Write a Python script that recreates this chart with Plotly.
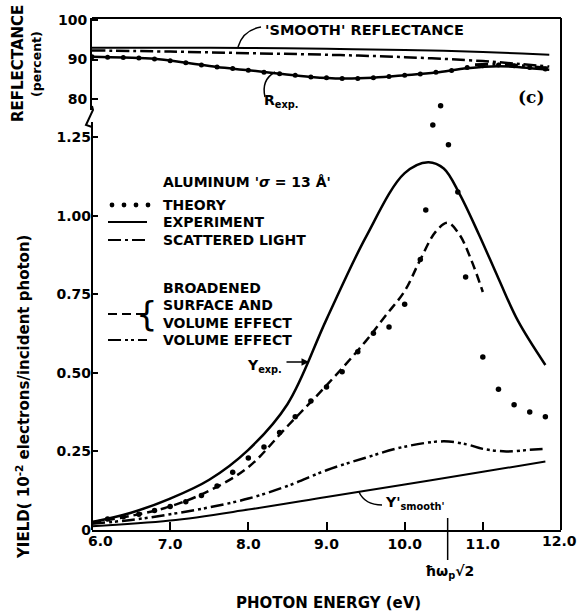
import plotly.graph_objects as go

# ---------------- DATA ----------------
# Top panel: reflectance (percent) vs photon energy (eV)
E_R_SMOOTH = [6.0, 7.0, 8.0, 9.0, 10.0, 10.5, 11.0, 11.5, 11.85]
R_SMOOTH = [93.0, 93.0, 92.9, 92.7, 92.4, 92.2, 91.9, 91.5, 91.2]

E_R_SCAT = [6.0, 7.0, 8.0, 9.0, 10.0, 11.0, 11.5, 11.85]
R_SCAT = [92.3, 92.0, 91.6, 91.2, 90.6, 89.6, 88.8, 88.2]

E_R_VOL = [10.9, 11.2, 11.5, 11.85]
R_VOL = [88.7, 88.8, 88.4, 87.8]

E_R_EXP = [6.0, 6.4, 6.8, 7.2, 7.6, 8.0, 8.4, 8.8, 9.2, 9.6, 10.0, 10.4, 10.8, 11.2, 11.5, 11.85]
R_EXP = [90.7, 90.5, 90.2, 89.2, 88.1, 87.3, 86.4, 85.6, 85.2, 85.4, 86.0, 86.7, 87.8, 88.3, 88.0, 87.4]

E_R_THEORY = [6.0, 6.2, 6.4, 6.6, 6.8, 7.0, 7.2, 7.4, 7.6, 7.8, 8.0, 8.2, 8.4, 8.6, 8.8,
              9.0, 9.2, 9.4, 9.6, 9.8, 10.0, 10.2, 10.4, 10.6, 10.8, 11.0, 11.2, 11.4, 11.6, 11.8]
R_THEORY = [90.7, 90.6, 90.5, 90.4, 90.1, 89.7, 89.2, 88.6, 88.1, 87.7, 87.3, 86.8, 86.4, 86.0, 85.6,
            85.4, 85.2, 85.2, 85.4, 85.7, 86.0, 86.3, 86.8, 87.2, 88.0, 88.4, 88.6, 88.4, 88.0, 87.6]

# Lower panel: yield (10^-2 electrons / incident photon)
E_Y_EXP = [6.0, 6.5, 7.0, 7.5, 8.0, 8.5, 9.0, 9.5, 10.0, 10.3, 10.5, 10.7, 10.95, 11.2, 11.45, 11.8]
Y_EXP = [0.025, 0.055, 0.10, 0.16, 0.255, 0.40, 0.67, 0.93, 1.135, 1.17, 1.15, 1.07, 0.94, 0.80, 0.665, 0.525]

E_Y_BROAD = [6.0, 6.5, 7.0, 7.5, 8.0, 8.5, 9.0, 9.5, 9.75, 10.0, 10.2, 10.4, 10.55, 10.7, 10.85, 11.0]
Y_BROAD = [0.025, 0.045, 0.075, 0.125, 0.20, 0.33, 0.46, 0.60, 0.68, 0.76, 0.86, 0.95, 0.977, 0.94, 0.86, 0.757]

E_Y_VOL = [6.0, 6.5, 7.0, 7.5, 8.0, 8.5, 9.0, 9.5, 10.0, 10.5, 10.8, 11.0, 11.3, 11.6, 11.8]
Y_VOL = [0.02, 0.032, 0.05, 0.072, 0.10, 0.14, 0.19, 0.23, 0.265, 0.282, 0.272, 0.258, 0.25, 0.255, 0.258]

E_Y_SMOOTH = [6.0, 7.0, 8.0, 9.0, 10.0, 11.0, 11.8]
Y_SMOOTH = [0.012, 0.03, 0.065, 0.105, 0.145, 0.185, 0.218]

E_Y_THEORY = [6.2, 6.4, 6.6, 6.8, 7.0, 7.2, 7.4, 7.6, 7.8, 8.0, 8.2, 8.4, 8.6, 8.8, 9.0, 9.2, 9.4,
              9.6, 9.8, 10.0, 10.2, 10.27, 10.36, 10.46, 10.56, 10.68, 10.78, 11.0, 11.2, 11.4, 11.6, 11.8]
Y_THEORY = [0.035, 0.042, 0.05, 0.062, 0.075, 0.09, 0.11, 0.14, 0.184, 0.229, 0.264, 0.31, 0.36, 0.41,
            0.455, 0.503, 0.567, 0.626, 0.646, 0.718, 0.86, 1.018, 1.288, 1.349, 1.225, 1.075, 0.805,
            0.55, 0.448, 0.398, 0.375, 0.36]

X_TICKS = [6, 7, 8, 9, 10, 11, 12]
X_TICKTEXT = ["", "7.0", "8.0", "9.0", "10.0", "11.0", ""]
X_FIRST_LABEL = "6.0"
X_LAST_LABEL = "12.0"
Y_TICKS = [0, 0.25, 0.5, 0.75, 1.0, 1.25]
Y_TICKTEXT = ["0", "0.25", "0.50", "0.75", "1.00", "1.25"]
R_TICKS = [80, 90, 100]
E_PLASMON = 10.55

# ---------------- GEOMETRY HELPERS (pixel -> paper) ----------------
W, H = 577, 611
L, Rr, T, B = 92, 561, 18, 530


def PX(x):
    return (x - L) / (Rr - L)


def PY(y):
    return (B - y) / (B - T)


Y_PX_PER_UNIT = 314.4
R_PX_PER_PCT = 3.95
LOW_TOP_PX = 122      # where the drawn yield axis line stops
LOW_DOMAIN_TOP_PX = 96  # data area of yield panel (lets high theory points show)
UP_BOT_PX = 110

FONT = "DejaVu Sans"
BLACK = "black"

DASH_SCAT = "13px,4px,3px,4px"
DASH_VOL = "13px,4px,3px,3px,3px,4px"
DASH_BROAD = "9px,5px"

fig = go.Figure()

# ---- top panel traces ----
fig.add_trace(go.Scatter(x=E_R_SMOOTH, y=R_SMOOTH, xaxis="x2", yaxis="y2", mode="lines",
                         line=dict(color=BLACK, width=2, shape="spline")))
fig.add_trace(go.Scatter(x=E_R_SCAT, y=R_SCAT, xaxis="x2", yaxis="y2", mode="lines",
                         line=dict(color=BLACK, width=2.5, dash=DASH_SCAT, shape="spline")))
fig.add_trace(go.Scatter(x=E_R_VOL, y=R_VOL, xaxis="x2", yaxis="y2", mode="lines",
                         line=dict(color=BLACK, width=3, dash=DASH_VOL, shape="spline")))
fig.add_trace(go.Scatter(x=E_R_EXP, y=R_EXP, xaxis="x2", yaxis="y2", mode="lines",
                         line=dict(color=BLACK, width=2.5, shape="spline")))
fig.add_trace(go.Scatter(x=E_R_THEORY, y=R_THEORY, xaxis="x2", yaxis="y2", mode="markers",
                         marker=dict(color=BLACK, size=5)))

# ---- lower panel traces ----
fig.add_trace(go.Scatter(x=E_Y_SMOOTH, y=Y_SMOOTH, mode="lines",
                         line=dict(color=BLACK, width=2, shape="spline")))
fig.add_trace(go.Scatter(x=E_Y_VOL, y=Y_VOL, mode="lines",
                         line=dict(color=BLACK, width=2.5, dash=DASH_VOL, shape="spline")))
fig.add_trace(go.Scatter(x=E_Y_BROAD, y=Y_BROAD, mode="lines",
                         line=dict(color=BLACK, width=2.5, dash=DASH_BROAD, shape="spline")))
fig.add_trace(go.Scatter(x=E_Y_EXP, y=Y_EXP, mode="lines",
                         line=dict(color=BLACK, width=2.5, shape="spline")))
fig.add_trace(go.Scatter(x=E_Y_THEORY, y=Y_THEORY, mode="markers", cliponaxis=False,
                         marker=dict(color=BLACK, size=5.5)))

tickfont = dict(family=FONT, size=14, color=BLACK, weight="bold")

fig.update_layout(
    width=W, height=H,
    margin=dict(l=L, r=W - Rr, t=T, b=H - B, autoexpand=False),
    paper_bgcolor="white", plot_bgcolor="rgba(0,0,0,0)",
    showlegend=False,
    xaxis=dict(domain=[0, 1], range=[6, 12], anchor="y", showline=True, linewidth=2,
               linecolor=BLACK, ticks="inside", ticklen=8, tickwidth=2, tickcolor=BLACK,
               tickvals=X_TICKS, ticktext=X_TICKTEXT, tickfont=tickfont,
               automargin=False, showgrid=False, zeroline=False),
    yaxis=dict(domain=[0, PY(LOW_DOMAIN_TOP_PX)],
               range=[0, (B - LOW_DOMAIN_TOP_PX) / Y_PX_PER_UNIT],
               anchor="x", showline=False, ticks="inside",
               ticklen=6, tickwidth=2, tickcolor=BLACK, tickvals=Y_TICKS, ticktext=Y_TICKTEXT,
               tickfont=tickfont, automargin=False, showgrid=False, zeroline=False),
    xaxis2=dict(domain=[0, 1], matches="x", anchor="y2", visible=False),
    yaxis2=dict(domain=[PY(UP_BOT_PX), 1],
                range=[100 - (UP_BOT_PX - 20) / R_PX_PER_PCT, 100 + (20 - T) / R_PX_PER_PCT],
                anchor="x2", showline=True, linewidth=2, linecolor=BLACK, ticks="inside",
                ticklen=6, tickwidth=2, tickcolor=BLACK, tickvals=R_TICKS, tickfont=tickfont,
                automargin=False, showgrid=False, zeroline=False),
)

shapes = []
# frame: top and right, and the yield axis line (stops at the break)
shapes.append(dict(type="line", xref="paper", yref="paper", x0=0, x1=1, y0=1, y1=1,
                   line=dict(color=BLACK, width=2)))
shapes.append(dict(type="line", xref="paper", yref="paper", x0=1, x1=1, y0=0, y1=1,
                   line=dict(color=BLACK, width=2)))
shapes.append(dict(type="line", xref="paper", yref="paper", x0=0, x1=0, y0=0, y1=PY(LOW_TOP_PX),
                   line=dict(color=BLACK, width=2)))
# axis break mark
shapes.append(dict(type="path", xref="paper", yref="paper",
                   path=f"M {PX(92)} {PY(106)} L {PX(93)} {PY(110)} L {PX(86)} {PY(125)} L {PX(92)} {PY(127)}",
                   line=dict(color=BLACK, width=2)))
# plasmon marker line
shapes.append(dict(type="line", xref="x", yref="paper", x0=E_PLASMON, x1=E_PLASMON,
                   y0=PY(518), y1=PY(560), line=dict(color=BLACK, width=1.5)))
# leaders
shapes.append(dict(type="path", xref="paper", yref="paper",
                   path=f"M {PX(261)} {PY(27)} Q {PX(243)} {PY(30)} {PX(238)} {PY(47)}",
                   line=dict(color=BLACK, width=1.5)))
shapes.append(dict(type="path", xref="paper", yref="paper",
                   path=f"M {PX(265)} {PY(97)} Q {PX(261)} {PY(80)} {PX(275)} {PY(72)}",
                   line=dict(color=BLACK, width=1.5)))
shapes.append(dict(type="path", xref="paper", yref="paper",
                   path=f"M {PX(359)} {PY(492)} Q {PX(365)} {PY(505)} {PX(382)} {PY(505)}",
                   line=dict(color=BLACK, width=1.5)))

# legend keys
key_x0, key_x1 = PX(108), PX(147)
for yy, dash in [(222, "solid"), (240, DASH_SCAT), (314, DASH_BROAD), (340, DASH_VOL)]:
    shapes.append(dict(type="line", xref="paper", yref="paper", x0=key_x0, x1=key_x1,
                       y0=PY(yy), y1=PY(yy), line=dict(color=BLACK, width=2, dash=dash)))
for cx in [112, 124, 136, 148]:
    r = 2.4
    shapes.append(dict(type="circle", xref="paper", yref="paper",
                       x0=PX(cx - r), x1=PX(cx + r), y0=PY(205 + r), y1=PY(205 - r),
                       fillcolor=BLACK, line=dict(color=BLACK, width=0)))
fig.update_layout(shapes=shapes)

lab = dict(family=FONT, size=14, color=BLACK, weight="bold")
ann = []


def text(x, y, s, xa="left", ya="middle", font=lab, angle=0):
    ann.append(dict(x=PX(x), y=PY(y), xref="paper", yref="paper", text=s, showarrow=False,
                    xanchor=xa, yanchor=ya, font=font, textangle=angle))


text(100, 541, X_FIRST_LABEL, xa="center", font=tickfont)
text(559, 541, X_LAST_LABEL, xa="center", font=tickfont)
text(263, 30, "'SMOOTH' REFLECTANCE", font=dict(family=FONT, size=14.5, color=BLACK, weight="bold"))
text(262, 101, "R<sub>exp.</sub>", font=dict(family=FONT, size=14, color=BLACK, weight="bold"))
text(546, 97, "(c)", xa="right", font=dict(family="DejaVu Serif", size=17, color=BLACK, weight="bold"))
text(161, 182, "ALUMINUM '<i>σ</i> = 13 Å'")
text(161, 205, "THEORY")
text(161, 222, "EXPERIMENT")
text(161, 240, "SCATTERED LIGHT")
text(161, 288, "BROADENED")
text(161, 305, "SURFACE AND")
text(161, 323, "VOLUME EFFECT")
text(161, 340, "VOLUME EFFECT")
text(160, 314, "{", xa="right", font=dict(family=FONT, size=34, color=BLACK))
text(284, 366, "Y<sub>exp.</sub>", xa="right", font=dict(family=FONT, size=14, color=BLACK, weight="bold"))
text(383, 503, "Y'<sub>smooth'</sub>", font=dict(family=FONT, size=14, color=BLACK, weight="bold"))
text(449, 572, "ħω<sub>p</sub>√2", xa="center", font=dict(family=FONT, size=14, color=BLACK, weight="bold"))
text(328, 603, "PHOTON ENERGY (eV)", xa="center",
     font=dict(family=FONT, size=15, color=BLACK, weight="bold"))
text(18, 64, "REFLECTANCE", xa="center", angle=-90,
     font=dict(family=FONT, size=15, color=BLACK, weight="bold"))
text(36, 64, "(percent)", xa="center", angle=-90,
     font=dict(family=FONT, size=12.5, color=BLACK, weight="bold"))
text(23, 397, "YIELD( 10<sup>-2</sup> electrons/incident photon)", xa="center", angle=-90,
     font=dict(family=FONT, size=15, color=BLACK, weight="bold"))

ann.append(dict(x=PX(309), y=PY(362), xref="paper", yref="paper", ax=-24, ay=0,
                axref="pixel", ayref="pixel", text="", showarrow=True, arrowhead=2,
                arrowsize=1, arrowwidth=1.5, arrowcolor=BLACK))
fig.update_layout(annotations=ann)

fig.write_html("out.html")
